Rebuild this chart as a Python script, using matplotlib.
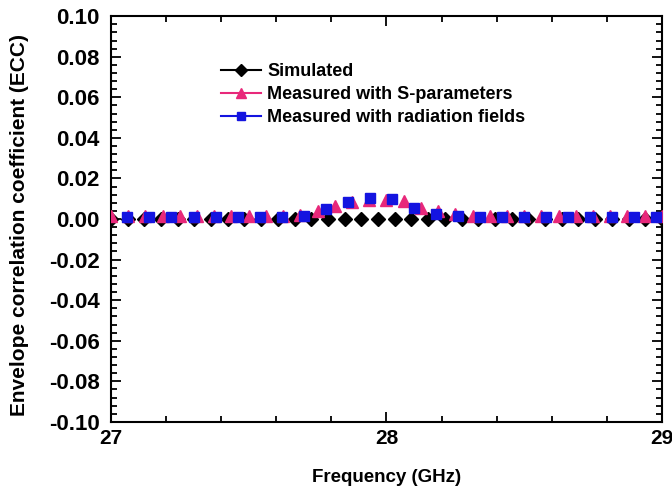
import numpy as np
import matplotlib
matplotlib.use('Agg')
from matplotlib import pyplot as plt
from matplotlib.lines import Line2D
from matplotlib.ticker import MultipleLocator, FuncFormatter

plt.rcParams['font.family'] = ['Liberation Sans', 'DejaVu Sans']
plt.rcParams['font.weight'] = 'bold'

# frequency grids of the three data sets (GHz)
freq_sim = np.linspace(27.0, 29.0, 34)
freq_s = np.linspace(27.0, 29.0, 33)
freq_rad = np.linspace(27.06, 28.98, 25)

# ECC values
ecc_sim = [0.0] * 34
ecc_s = [0.0015, 0.0015, 0.0015, 0.0015, 0.0015, 0.0015, 0.0015, 0.0015,
         0.0015, 0.0015, 0.0015, 0.002, 0.004, 0.0065, 0.0085, 0.0095,
         0.0095, 0.009, 0.0055, 0.004, 0.0025, 0.0015, 0.0015, 0.0015,
         0.0015, 0.0015, 0.0015, 0.0015, 0.0015, 0.0015, 0.0015, 0.0015, 0.0015]
ecc_rad = [0.001, 0.001, 0.001, 0.001, 0.001, 0.001, 0.001, 0.001,
           0.0015, 0.005, 0.0084, 0.0104, 0.0099, 0.0054, 0.0025, 0.0015,
           0.001, 0.001, 0.001, 0.001, 0.001, 0.001, 0.001, 0.001, 0.001]

labels = ['Simulated', 'Measured with S-parameters', 'Measured with radiation fields']
pink = '#e8287a'
blue = '#1414e0'

fig = plt.figure(figsize=(6.72, 4.9), dpi=100)
ax = fig.add_axes([0.165, 0.139, 0.82, 0.828])

ax.plot(freq_sim, ecc_sim, ls='none', marker='D', ms=7, color='black', zorder=3)
ax.plot(freq_s, ecc_s, ls='none', marker='^', ms=8.5, color=pink, zorder=4)
ax.plot(freq_rad, ecc_rad, ls='none', marker='s', ms=6.5, color=blue, zorder=5)

handles = [Line2D([], [], color='black', marker='D', ms=6, lw=1.5),
           Line2D([], [], color=pink, marker='^', ms=7, lw=1.5),
           Line2D([], [], color=blue, marker='s', ms=6, lw=1.5)]
ax.legend(handles, labels, loc='upper left', bbox_to_anchor=(0.2, 0.885),
          frameon=False, fontsize=13, handlelength=2.2, handletextpad=0.35,
          labelspacing=0.35, borderpad=0, borderaxespad=0)

ax.set_xlim(27, 29)
ax.set_ylim(-0.1, 0.1)
ax.xaxis.set_major_locator(MultipleLocator(1))
ax.xaxis.set_minor_locator(MultipleLocator(0.2))
ax.yaxis.set_major_locator(MultipleLocator(0.02))
ax.yaxis.set_minor_locator(MultipleLocator(0.004))
ax.yaxis.set_major_formatter(FuncFormatter(lambda v, p: '%.2f' % (round(v, 4) + 0.0)))
ax.tick_params(which='both', direction='in', top=True, right=True, width=1.3)
ax.tick_params(which='major', length=7)
ax.tick_params(which='minor', length=4)
ax.tick_params(axis='x', labelsize=15, pad=5)
ax.tick_params(axis='y', labelsize=16, pad=8)
for s in ax.spines.values():
    s.set_linewidth(1.5)

ax.set_xlabel('Frequency (GHz)', fontsize=13.5, fontweight='bold', labelpad=15)
ax.set_ylabel('Envelope correlation coefficient (ECC)', fontsize=15, fontweight='bold')
ax.yaxis.set_label_coords(-0.148, 0.485)

fig.savefig('out.png', dpi=100)
